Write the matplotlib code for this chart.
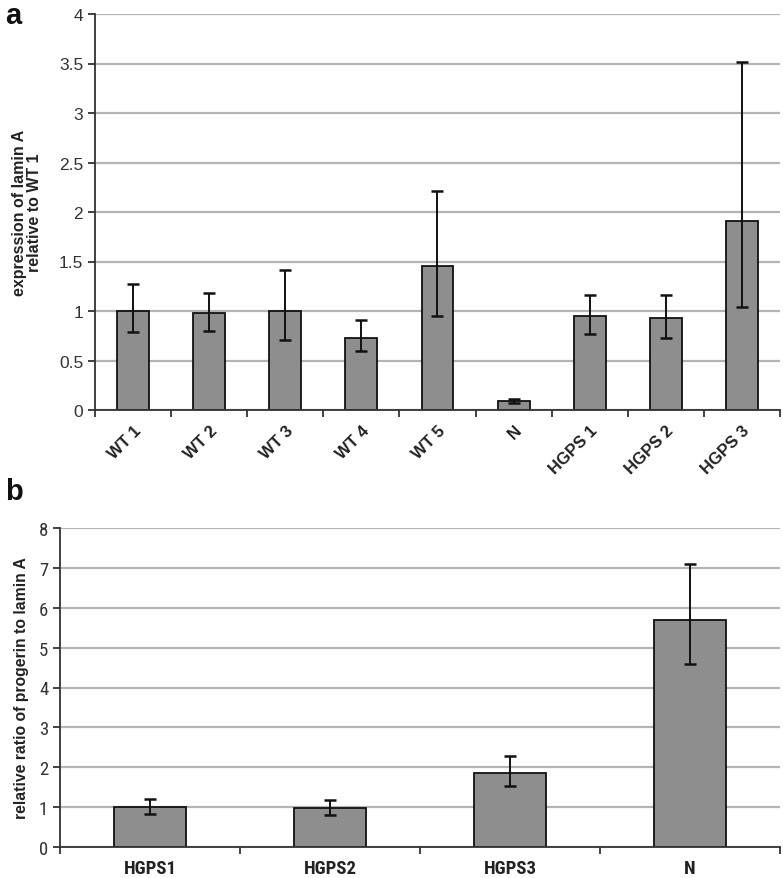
import matplotlib
matplotlib.use("Agg")
import matplotlib.pyplot as plt
from matplotlib import font_manager as fm
import numpy as np

# Panel a data
cats_a = ["WT 1", "WT 2", "WT 3", "WT 4", "WT 5", "N", "HGPS 1", "HGPS 2", "HGPS 3"]
vals_a = [1.0, 0.98, 1.0, 0.73, 1.45, 0.09, 0.945, 0.925, 1.91]
err_hi_a = [1.27, 1.18, 1.41, 0.91, 2.21, 0.11, 1.16, 1.16, 3.52]
err_lo_a = [0.79, 0.80, 0.71, 0.60, 0.95, 0.07, 0.77, 0.73, 1.04]
yticks_a = [0, 0.5, 1, 1.5, 2, 2.5, 3, 3.5, 4]
yticklabels_a = ["0", "0.5", "1", "1.5", "2", "2.5", "3", "3.5", "4"]

# Panel b data
cats_b = ["HGPS1", "HGPS2", "HGPS3", "N"]
vals_b = [1.0, 0.97, 1.85, 5.70]
err_hi_b = [1.20, 1.17, 2.27, 7.10]
err_lo_b = [0.82, 0.80, 1.53, 4.60]
yticks_b = [0, 1, 2, 3, 4, 5, 6, 7, 8]

BAR = "#8e8e8e"
GRID = "#b4b4b4"
AX = "#333333"
TXT = "#222222"

fig = plt.figure(figsize=(7.83, 8.79), dpi=100)
fam = ["Liberation Sans", "DejaVu Sans"]
names = {f.name for f in fm.fontManager.ttflist}
narrow = None
for cand in ["Liberation Sans Narrow", "Arial Narrow", "Roboto Condensed"]:
    if cand in names:
        narrow = [cand, "Liberation Sans", "DejaVu Sans"]
        break
if narrow is None:
    narrow = fam
    nsize = 12.5
else:
    nsize = 13.5

def style(ax):
    for s in ["top", "right"]:
        ax.spines[s].set_visible(False)
    for s in ["left", "bottom"]:
        ax.spines[s].set_color(AX)
        ax.spines[s].set_linewidth(1.3)
    ax.yaxis.grid(True, color=GRID, linewidth=1.6)
    ax.set_axisbelow(True)
    ax.tick_params(axis="both", colors=AX, width=1.3, length=5, direction="out")

# ---- Panel a ----
axa = fig.add_axes([95/783, 1-411/879, 685/783, 396/879])
x = np.arange(len(cats_a))
va = np.array(vals_a)
yerr_a = [va - np.array(err_lo_a), np.array(err_hi_a) - va]
axa.bar(x, va, width=0.42, color=BAR, edgecolor="#111111", linewidth=1.3, zorder=2)
axa.errorbar(x, va, yerr=yerr_a, fmt="none", ecolor="#111111", elinewidth=1.4,
             capsize=4, capthick=1.8, zorder=3)
axa.set_xlim(-0.5, len(cats_a) - 0.5)
axa.set_ylim(0, 4)
axa.set_yticks(yticks_a)
axa.set_yticklabels(yticklabels_a, fontsize=12.5, family=fam, color=TXT)
axa.set_xticks(np.arange(len(cats_a) + 1) - 0.5, minor=False)
axa.set_xticklabels([""] * (len(cats_a) + 1))
axa.set_xticks(x, minor=True)
axa.set_xticklabels(cats_a, minor=True, rotation=45, ha="right", va="top",
                    rotation_mode="anchor", fontsize=12, fontweight="bold",
                    family=fam, color=TXT)
axa.tick_params(axis="x", which="minor", length=0, pad=9)
style(axa)
axa.set_ylabel("expression of lamin A\nrelative to WT 1", fontsize=11.5,
               fontweight="bold", family=fam, color=TXT, labelpad=12,
               linespacing=1.05)
fig.text(5/783, 1-2/879, "a", fontsize=21, fontweight="bold", family=fam,
         va="top", ha="left", color="#111111")

# ---- Panel b ----
axb = fig.add_axes([60/783, 1-848/879, 720/783, 319/879])
xb = np.arange(len(cats_b))
vb = np.array(vals_b)
yerr_b = [vb - np.array(err_lo_b), np.array(err_hi_b) - vb]
axb.bar(xb, vb, width=0.4, color=BAR, edgecolor="#111111", linewidth=1.3, zorder=2)
axb.errorbar(xb, vb, yerr=yerr_b, fmt="none", ecolor="#111111", elinewidth=1.4,
             capsize=4, capthick=1.8, zorder=3)
axb.set_xlim(-0.5, len(cats_b) - 0.5)
axb.set_ylim(0, 8)
axb.set_yticks(yticks_b)
axb.set_yticklabels([str(t) for t in yticks_b], fontsize=nsize, family=narrow, color=TXT)
axb.set_xticks(np.arange(len(cats_b) + 1) - 0.5)
axb.set_xticklabels([""] * (len(cats_b) + 1))
axb.set_xticks(xb, minor=True)
axb.set_xticklabels(cats_b, minor=True, fontsize=nsize, fontweight="bold",
                    family=narrow, color=TXT)
axb.tick_params(axis="x", which="minor", length=0, pad=9)
style(axb)
axb.set_ylabel("relative ratio of progerin to lamin A", fontsize=11.3,
               fontweight="bold", family=fam, color=TXT, labelpad=7)
fig.text(5/783, 1-478/879, "b", fontsize=21, fontweight="bold", family=fam,
         va="top", ha="left", color="#111111")

fig.savefig("out.png", dpi=100, facecolor="white")
